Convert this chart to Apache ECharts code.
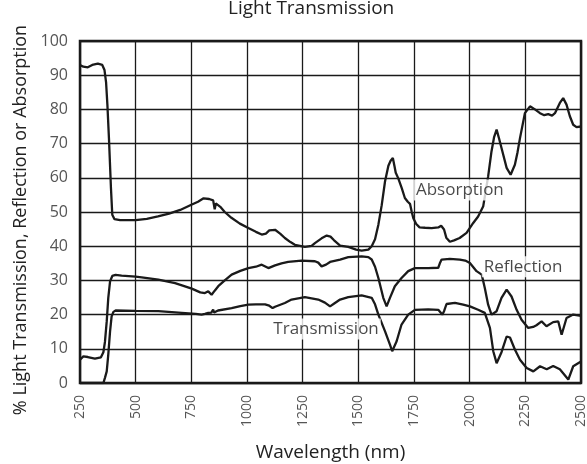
<!DOCTYPE html>
<html>
<head>
<meta charset="utf-8">
<title>Light Transmission</title>
<script src="https://cdn.jsdelivr.net/npm/echarts@6/dist/echarts.min.js"></script>
<style>
  html, body { margin: 0; padding: 0; background: #fff; }
  #chart { width: 587px; height: 464px; }
</style>
</head>
<body>
<div id="chart"></div>
<script>
// wavelength (nm), percent
var absorption = [
  [250, 93.0], [265, 92.5], [285, 92.3], [305, 93.0], [330, 93.4], [350, 93.0], [360, 91.5], [367, 88.0],
  [373, 81.4], [380, 71.6], [389, 57.0], [395, 49.2], [405, 47.9], [430, 47.6], [500, 47.6], [550, 48.0],
  [600, 48.7], [650, 49.5], [700, 50.6], [750, 52.1], [780, 53.0], [805, 54.0], [830, 53.8], [848, 53.4],
  [855, 50.8], [860, 52.5], [880, 51.5], [900, 50.0], [930, 48.3], [968, 46.6], [1006, 45.3], [1040, 44.2],
  [1066, 43.4], [1085, 43.7], [1100, 44.6], [1126, 44.8], [1150, 43.6], [1170, 42.4], [1195, 41.2], [1215, 40.4],
  [1260, 39.8], [1290, 40.1], [1305, 40.9], [1335, 42.3], [1358, 43.1], [1375, 42.8], [1390, 41.8], [1418, 40.2],
  [1455, 39.8], [1490, 39.0], [1515, 38.7], [1545, 39.0], [1560, 40.0], [1575, 42.0], [1590, 46.3], [1605, 52.0],
  [1620, 59.0], [1635, 63.5], [1645, 65.0], [1655, 65.8], [1662, 63.5], [1668, 61.5], [1679, 59.9], [1695, 57.0],
  [1709, 54.1], [1722, 53.0], [1732, 52.4], [1740, 50.0], [1747, 48.2], [1760, 46.5], [1775, 45.5], [1800, 45.4],
  [1829, 45.3], [1859, 45.5], [1872, 46.0], [1885, 44.9], [1895, 42.5], [1911, 41.3], [1930, 41.7], [1955, 42.4],
  [1986, 43.9], [2016, 46.8], [2038, 48.7], [2061, 51.7], [2083, 60.4], [2098, 67.7], [2110, 72.0], [2121, 74.1],
  [2132, 71.5], [2143, 68.7], [2166, 62.9], [2184, 60.9], [2203, 63.8], [2215, 67.5], [2226, 71.6], [2248, 78.9],
  [2271, 80.9], [2293, 80.0], [2316, 78.9], [2335, 78.3], [2353, 78.6], [2370, 78.2], [2383, 78.9], [2405, 81.9],
  [2420, 83.3], [2435, 81.4], [2450, 78.0], [2465, 75.5], [2480, 74.8], [2500, 75.0]
];

var reflection = [
  [250, 6.8], [265, 7.8], [285, 7.6], [317, 7.1], [344, 7.5], [355, 9.0], [362, 12.0], [370, 18.0],
  [377, 24.9], [385, 29.7], [395, 31.3], [410, 31.6], [437, 31.4], [500, 31.1], [527, 30.9], [602, 30.2],
  [677, 29.2], [752, 27.6], [790, 26.5], [811, 26.3], [826, 26.8], [841, 25.8], [855, 27.0], [871, 28.3],
  [900, 30.0], [931, 31.7], [970, 32.8], [1006, 33.6], [1040, 34.0], [1066, 34.6], [1096, 33.6], [1126, 34.4],
  [1155, 35.0], [1185, 35.4], [1245, 35.8], [1305, 35.6], [1320, 35.2], [1335, 34.1], [1355, 34.6], [1373, 35.4],
  [1418, 36.1], [1455, 36.8], [1515, 37.0], [1545, 36.8], [1560, 36.1], [1575, 34.0], [1590, 30.7], [1612, 24.9],
  [1627, 22.4], [1642, 24.9], [1664, 28.3], [1694, 30.7], [1724, 32.7], [1754, 33.6], [1814, 33.6], [1859, 33.7],
  [1866, 35.0], [1874, 36.1], [1911, 36.3], [1956, 36.1], [1980, 35.8], [2001, 35.1], [2031, 32.7], [2054, 31.7],
  [2068, 27.8], [2083, 22.9], [2098, 20.0], [2121, 21.0], [2143, 24.9], [2166, 27.3], [2188, 25.3], [2211, 21.4],
  [2233, 18.5], [2263, 16.1], [2285, 16.4], [2300, 16.9], [2323, 18.0], [2345, 16.6], [2375, 17.8], [2398, 18.0],
  [2413, 14.1], [2435, 19.0], [2465, 20.0], [2500, 19.6]
];

var transmission = [
  [250, 0], [300, 0], [355, 0], [362, 1.5], [370, 3.4], [377, 8.3], [385, 15.1], [392, 19.5],
  [400, 20.8], [410, 21.2], [497, 21.1], [602, 21.0], [707, 20.5], [770, 20.2], [796, 20.0], [811, 20.2],
  [826, 20.5], [840, 20.6], [848, 21.5], [852, 20.6], [870, 21.2], [931, 21.9], [970, 22.5], [1006, 22.9],
  [1040, 23.0], [1081, 23.0], [1100, 22.6], [1115, 21.9], [1126, 22.3], [1170, 23.4], [1200, 24.4], [1260, 25.1],
  [1320, 24.4], [1350, 23.5], [1373, 22.4], [1395, 23.4], [1418, 24.4], [1455, 25.1], [1515, 25.6], [1560, 24.9],
  [1575, 23.0], [1590, 20.0], [1620, 15.1], [1642, 11.2], [1652, 9.3], [1672, 12.2], [1694, 17.1], [1724, 20.0],
  [1754, 21.4], [1814, 21.5], [1859, 21.4], [1877, 20.0], [1885, 21.0], [1896, 23.1], [1934, 23.4], [1971, 22.9],
  [2001, 22.4], [2038, 21.4], [2068, 20.5], [2091, 16.1], [2106, 9.3], [2121, 5.8], [2143, 9.0], [2166, 13.6],
  [2181, 13.3], [2203, 9.8], [2226, 6.8], [2256, 4.4], [2286, 3.4], [2316, 4.9], [2346, 4.0], [2375, 5.0],
  [2405, 4.0], [2443, 1.0], [2465, 4.9], [2500, 6.3]
];

// curve labels: name, wavelength, percent
var labelNames = ['Absorption', 'Reflection', 'Transmission'];
var labelNm = [1956, 2240, 1355];
var labelVal = [56.4, 34.0, 15.8];

var font = 'Open Sans';
var ink = '#1a1a1a';

var chart = echarts.init(document.getElementById('chart'));

function curve(name, data) {
  return {
    name: name,
    type: 'line',
    data: data,
    showSymbol: false,
    symbol: 'none',
    lineStyle: { color: ink, width: 2.3 },
    z: 3
  };
}

chart.setOption({
  animation: false,
  title: {
    text: 'Light Transmission',
    left: 223,
    top: -6,
    textStyle: { fontFamily: font, fontSize: 19, fontWeight: 'normal', color: '#222' }
  },
  grid: {
    left: 80, right: 6, top: 41, bottom: 81,
    outerBoundsMode: 'none',
    show: true, borderColor: ink, borderWidth: 2.5
  },
  xAxis: {
    type: 'value',
    min: 250, max: 2500, interval: 250,
    name: 'Wavelength (nm)',
    nameLocation: 'middle',
    nameGap: 60,
    nameTextStyle: { fontFamily: font, fontSize: 19, color: '#222' },
    axisLine: { show: false },
    axisTick: { show: false },
    axisLabel: {
      rotate: 90, margin: 12, fontFamily: font, fontSize: 14, color: '#555',
      formatter: function (v) { return String(v); }
    },
    splitLine: { show: true, lineStyle: { color: ink, width: 1.3 } }
  },
  yAxis: {
    type: 'value',
    min: 0, max: 100, interval: 10,
    name: '% Light Transmission, Reflection or Absorption',
    nameLocation: 'middle',
    nameGap: 50,
    nameTextStyle: { fontFamily: font, fontSize: 18, color: '#222', padding: [0, 16, 0, 0] },
    axisLine: { show: false },
    axisTick: { show: false },
    axisLabel: { margin: 12, fontFamily: font, fontSize: 16, color: '#555' },
    splitLine: { show: true, lineStyle: { color: ink, width: 1.3 } }
  },
  series: [
    curve('Absorption', absorption),
    curve('Reflection', reflection),
    curve('Transmission', transmission),
    {
      type: 'scatter',
      symbolSize: 0,
      z: 6,
      data: labelNames.map(function (n, i) { return [labelNm[i], labelVal[i], n]; }),
      label: {
        show: true,
        position: 'inside',
        formatter: function (p) { return p.value[2]; },
        fontFamily: font,
        fontSize: 17,
        color: '#1a1a1a',
        backgroundColor: '#fff',
        padding: [2, 2]
      }
    }
  ]
});
</script>
</body>
</html>
